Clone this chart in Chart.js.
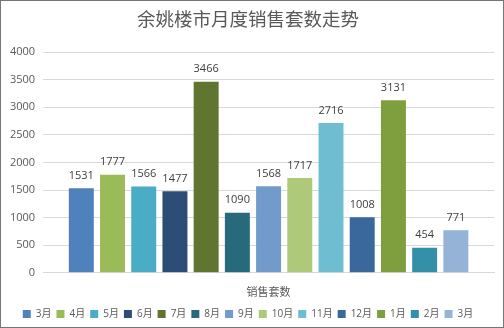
<!DOCTYPE html>
<html>
<head>
<meta charset="utf-8">
<script src="https://cdn.jsdelivr.net/npm/chart.js@4"></script>
<style>
  html, body { margin: 0; padding: 0; background: #fff; }
  #wrap { width: 504px; height: 328px; box-sizing: border-box; border: 1px solid #767676; position: relative; }
</style>
</head>
<body>
<div id="wrap"><canvas id="chart"></canvas></div>
<script>
  const months = ['3月', '4月', '5月', '6月', '7月', '8月', '9月', '10月', '11月', '12月', '1月', '2月', '3月'];
  const sales = [1531, 1777, 1566, 1477, 3466, 1090, 1568, 1717, 2716, 1008, 3131, 454, 771];
  const colors = ['#4F81BD', '#9BBB59', '#4BACC6', '#2C4D75', '#5F7530', '#276A7C', '#729ACA',
                  '#AFC97A', '#6FBDD1', '#3A679C', '#7F9F3E', '#3490A8', '#95B3D7'];
  const category = ['销售套数'];

  const FONT = "'Open Sans', 'Noto Sans CJK SC', sans-serif";

  // draws the value above each bar
  const valueLabels = {
    id: 'valueLabels',
    afterDatasetsDraw(chart) {
      const ctx = chart.ctx;
      ctx.save();
      ctx.font = '11px ' + FONT;
      ctx.fillStyle = '#404040';
      ctx.textAlign = 'center';
      ctx.textBaseline = 'bottom';
      chart.data.datasets.forEach((ds, i) => {
        const meta = chart.getDatasetMeta(i);
        if (meta.hidden) return;
        meta.data.forEach((bar, j) => {
          ctx.fillText(ds.data[j], bar.x, bar.y - 7);
        });
      });
      ctx.restore();
    }
  };

  new Chart(document.getElementById('chart'), {
    type: 'bar',
    data: {
      labels: category,
      datasets: months.map((m, i) => ({
        label: m,
        data: [sales[i]],
        backgroundColor: colors[i],
        categoryPercentage: 0.9,
        barPercentage: 0.8
      }))
    },
    options: {
      responsive: true,
      maintainAspectRatio: false,
      animation: false,
      layout: { padding: { left: 1, right: 9, top: 0, bottom: -2 } },
      plugins: {
        title: {
          display: true,
          text: '余姚楼市月度销售套数走势',
          color: '#595959',
          font: { family: FONT, size: 18.5, weight: 'normal' },
          padding: { top: 9, bottom: 20 }
        },
        legend: {
          position: 'bottom',
          labels: {
            boxWidth: 8,
            boxHeight: 8,
            padding: 5,
            color: '#595959',
            font: { family: FONT, size: 10 }
          }
        },
        tooltip: { enabled: false }
      },
      scales: {
        x: {
          grid: { display: false },
          border: { color: '#D9D9D9' },
          ticks: { color: '#595959', font: { family: FONT, size: 11 }, padding: 5 }
        },
        y: {
          min: 0,
          max: 4000,
          ticks: {
            stepSize: 500,
            color: '#595959',
            font: { family: FONT, size: 11 },
            padding: 8,
            callback: v => String(v)
          },
          grid: { color: '#D9D9D9', drawTicks: false },
          border: { display: false }
        }
      }
    },
    plugins: [valueLabels]
  });
</script>
</body>
</html>
